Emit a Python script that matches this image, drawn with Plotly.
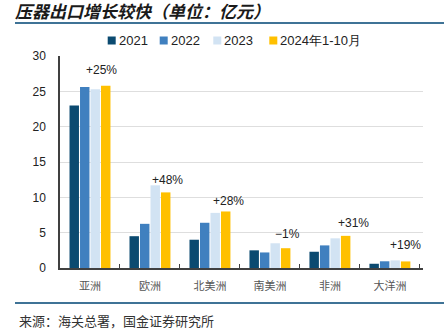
import plotly.graph_objects as go

categories = ["亚洲", "欧洲", "北美洲", "南美洲", "非洲", "大洋洲"]
series_names = ["2021", "2022", "2023", "2024年1-10月"]
v2021 = [23.0, 4.5, 4.0, 2.5, 2.3, 0.6]
v2022 = [25.6, 6.25, 6.4, 2.2, 3.2, 0.95]
v2023 = [25.3, 11.7, 7.8, 3.5, 4.2, 1.08]
v2024 = [25.8, 10.7, 8.0, 2.8, 4.55, 0.93]
growth_labels = ["+25%", "+48%", "+28%", "−1%", "+31%", "+19%"]

colors = ["#0b4a70", "#4080bf", "#d2e3f3", "#ffc000"]
label_x = [0.19, 1.29, 2.31, 3.29, 4.39, 5.26]
label_y = [28.0, 12.4, 9.5, 4.85, 6.3, 3.3]

# plot area in pixels (for placing legend/decorations)
L, R, T, B = 60, 423, 56, 268
W, H = R - L, B - T
def px(x):
    return (x - L) / W
def py(y):
    return (B - y) / H

legend_square_left = [107.7, 159.7, 213.3, 269.3]

fig = go.Figure()
for name, vals, c in zip(series_names, [v2021, v2022, v2023, v2024], colors):
    fig.add_trace(go.Bar(x=categories, y=vals, name=name, showlegend=False,
                         marker=dict(color=c, line=dict(width=0))))

annotations = []
for t, lx, ly in zip(growth_labels, label_x, label_y):
    annotations.append(dict(x=lx, y=ly, xref="x", yref="y", text=t, showarrow=False,
                            font=dict(size=12, color="#222222", family="Liberation Sans")))
annotations.append(dict(x=px(17), y=py(320), xref="paper", yref="paper", xanchor="left", yanchor="middle",
                        text="来源：海关总署，国金证券研究所", showarrow=False,
                        font=dict(size=13, color="#333333", family="Noto Sans CJK SC")))

shapes = [
    dict(type="line", xref="paper", yref="paper", x0=px(15), x1=px(444), y0=py(23), y1=py(23),
         line=dict(color="#3f7396", width=2)),
    dict(type="line", xref="paper", yref="paper", x0=px(15), x1=px(444), y0=py(303), y1=py(303),
         line=dict(color="#3f7396", width=2)),
]
# manual legend
for name, c, sx in zip(series_names, colors, legend_square_left):
    shapes.append(dict(type="rect", xref="paper", yref="paper", x0=px(sx), x1=px(sx + 8),
                       y0=py(44.5), y1=py(36.5), fillcolor=c, line=dict(width=0)))
    annotations.append(dict(x=px(sx + 10), y=py(40.5), xref="paper", yref="paper", xanchor="left",
                            yanchor="middle", text=name, showarrow=False, xshift=-1,
                            font=dict(size=13, color="#222222", family="Liberation Sans")))

fig.update_layout(
    width=444, height=336,
    margin=dict(l=L, r=444 - R, t=T, b=336 - B),
    paper_bgcolor="white", plot_bgcolor="white",
    barmode="group", bargap=0.3, bargroupgap=0.1,
    title=dict(text="<b><i>压器出口增长较快（单位：亿元）</i></b>", x=15/444, xanchor="left",
               y=1 - 12.5/336, yanchor="middle", yref="container",
               font=dict(size=17, color="#1a1a1a", family="Noto Sans CJK SC")),
    showlegend=False,
    xaxis=dict(type="category", showline=True, linecolor="#404040", linewidth=1.5,
               ticks="inside", tickson="boundaries", ticklen=4, tickcolor="#404040",
               ticklabelstandoff=7,
               tickfont=dict(size=11, color="#555555", family="Noto Sans CJK SC"),
               showgrid=False),
    yaxis=dict(range=[0, 30], dtick=5, showline=True, linecolor="#404040", linewidth=1.5,
               showgrid=True, gridcolor="#dedede", gridwidth=1, zeroline=False,
               ticks="", ticklabelstandoff=10,
               tickfont=dict(size=12, color="#222222", family="Liberation Sans")),
    annotations=annotations,
    shapes=shapes,
)

fig.write_html("out.html")
